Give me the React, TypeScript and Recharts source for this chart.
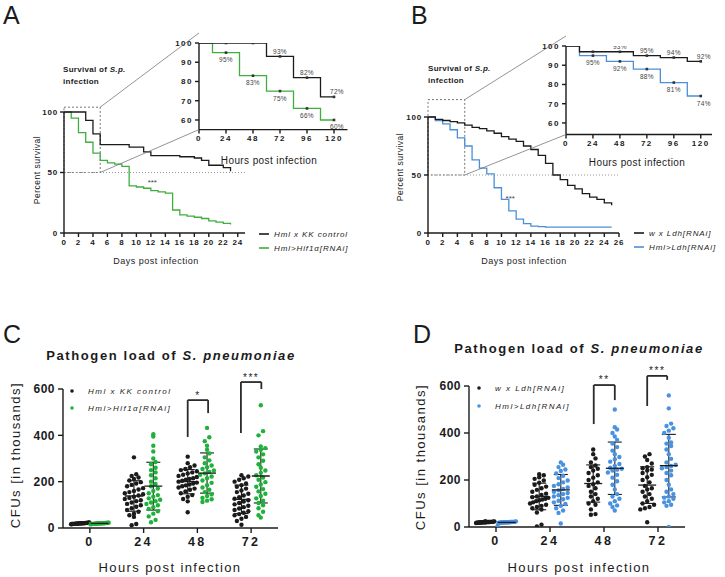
import {
  LineChart,
  Line,
  XAxis,
  YAxis,
  ReferenceLine,
  ReferenceArea,
  ReferenceDot,
  ScatterChart,
  Scatter,
  ErrorBar,
} from 'recharts'

const FONT = '"Liberation Sans", Arial, Helvetica, sans-serif'
const INK = '#1b1b1b'
const GREEN_LINE = '#3fae3f'
const BLUE_LINE = '#4b8fd8'
const GREEN_DOT = '#22b03c'
const BLUE_DOT = '#4a92e0'

// ---- survival, days post infection ----
const A_DAYS = [0, 1, 2, 3, 4, 5, 6, 7, 8, 9, 10, 11, 12, 13, 14, 15, 16, 17, 18, 19, 20, 21, 22, 23]
const A_CONTROL = [100, 100, 100, 93, 82, 73, 73, 73, 73, 71, 71, 67, 64, 64, 64, 64, 63, 63, 62, 60, 56, 56, 54, 51]
const A_HIF = [100, 95, 83, 75, 66, 60, 58, 57, 55, 39, 38, 37, 35, 34, 33, 19, 15, 14, 13, 12, 10, 9, 8, 7]

const B_DAYS = [0, 1, 2, 3, 4, 5, 6, 7, 8, 9, 10, 11, 12, 13, 14, 15, 16, 17, 18, 19, 20, 21, 22, 23, 24, 25]
const B_CONTROL = [100, 98, 97, 96, 95, 93, 91, 90, 88, 86, 83, 81, 79, 75, 72, 67, 60, 50, 46, 41, 38, 34, 31, 29, 26, 24]
const B_LDH = [100, 97, 94, 89, 82, 75, 63, 56, 51, 39, 29, 19, 12, 8, 6, 5.5, 5, 5, 5, 5, 5, 5, 5, 5, 5, 5]

const A_DAY_TICKS = [0, 2, 4, 6, 8, 10, 12, 14, 16, 18, 20, 22, 24]
const B_DAY_TICKS = [0, 2, 4, 6, 8, 10, 12, 14, 16, 18, 20, 22, 24, 26]
const MAIN_Y_TICKS = [0, 50, 100]

// ---- survival insets, hours post infection ----
const INSET_HOURS = [0, 12, 24, 36, 48, 60, 72, 84, 96, 108, 120]
const INSET_HOUR_TICKS = [0, 24, 48, 72, 96, 120]
const INSET_Y_TICKS = [60, 70, 80, 90, 100]

const A_INSET_CONTROL = [100, 100, 100, 100, 100, 93, 93, 82, 82, 72, 72]
const A_INSET_HIF = [100, 95, 95, 83, 83, 75, 75, 66, 66, 60, 60]
const A_INSET_CONTROL_LABELS = ['', '', '', '', '', '', '93%', '', '82%', '', '72%']
const A_INSET_HIF_LABELS = ['', '', '95%', '', '83%', '', '75%', '', '66%', '', '60%']

const B_INSET_CONTROL = [100, 97, 97, 97, 97, 95, 95, 94, 94, 92, 92]
const B_INSET_LDH = [100, 95, 95, 92, 92, 88, 88, 81, 81, 74, 74]
const B_INSET_CONTROL_LABELS = ['', '', '', '', '93%', '', '95%', '', '94%', '', '92%']
const B_INSET_LDH_LABELS = ['', '', '95%', '', '92%', '', '88%', '', '81%', '', '74%']

// ---- pathogen load, CFUs in thousands ----
const HOUR_GROUPS = ['0', '24', '48', '72']
const CFU_TICKS = [0, 200, 400, 600]

const C_CONTROL = [
  [24, 23, 23, 22, 22, 22, 21, 21, 21, 21, 20, 20, 20, 20, 20, 19, 19, 19, 19, 18, 18, 18, 17, 17, 16, 22, 21, 20, 19, 18],
  [305, 232, 225, 218, 212, 205, 198, 192, 186, 180, 172, 166, 160, 155, 150, 146, 140, 135, 130, 125, 120, 116, 110, 104, 98, 92, 85, 78, 70, 62, 55, 48, 17, 12],
  [308, 280, 270, 262, 255, 250, 245, 240, 235, 230, 225, 220, 215, 212, 208, 204, 200, 196, 192, 188, 184, 180, 175, 170, 165, 158, 150, 142, 135, 125, 115, 68],
  [228, 222, 215, 208, 200, 192, 185, 178, 170, 162, 155, 148, 140, 133, 126, 120, 114, 108, 102, 96, 90, 84, 78, 72, 66, 60, 55, 48, 40, 30, 14],
]
const C_HIF = [
  [23, 23, 22, 22, 22, 21, 21, 21, 20, 20, 20, 20, 20, 19, 19, 19, 19, 18, 18, 18, 17, 17, 16, 21, 20, 19, 22, 20, 18, 21],
  [405, 395, 355, 330, 300, 285, 275, 260, 250, 240, 228, 215, 200, 190, 180, 170, 160, 150, 142, 135, 128, 122, 116, 110, 104, 98, 90, 82, 72, 62, 50, 35, 25],
  [432, 392, 375, 355, 338, 322, 305, 292, 280, 270, 262, 255, 248, 242, 236, 230, 222, 215, 205, 195, 185, 175, 165, 155, 145, 138, 130, 124, 118, 112],
  [530, 418, 400, 352, 345, 338, 330, 318, 305, 290, 275, 260, 248, 238, 228, 218, 208, 198, 188, 178, 168, 158, 148, 138, 128, 118, 108, 98, 85, 70, 55, 45],
]

const D_CONTROL = [
  [25, 24, 23, 22, 22, 21, 21, 21, 20, 20, 20, 20, 19, 19, 19, 18, 18, 17, 22, 21, 20, 19, 23, 20, 18, 21],
  [225, 220, 212, 205, 198, 188, 180, 172, 165, 158, 150, 142, 136, 130, 127, 124, 120, 117, 114, 110, 105, 100, 95, 90, 85, 80, 74, 62, 10, 2],
  [330, 310, 292, 275, 262, 255, 248, 240, 230, 220, 210, 200, 190, 182, 175, 165, 150, 140, 130, 120, 110, 100, 95, 75, 55, 52],
  [310, 300, 285, 270, 255, 250, 245, 240, 230, 222, 212, 200, 190, 175, 165, 160, 150, 140, 130, 120, 110, 100, 95, 85, 80, 75, 20],
]
const D_LDH = [
  [24, 23, 22, 22, 21, 21, 20, 20, 20, 20, 19, 19, 19, 18, 18, 17, 22, 21, 20, 19, 21, 20, 5, 20, 18],
  [275, 265, 255, 245, 238, 228, 218, 208, 198, 190, 182, 175, 168, 162, 156, 150, 145, 140, 135, 130, 124, 118, 112, 105, 98, 90, 80, 70, 60, 15],
  [500, 425, 415, 400, 385, 370, 355, 340, 325, 310, 298, 288, 278, 268, 260, 252, 248, 244, 240, 232, 222, 210, 195, 180, 160, 140, 130, 120, 110, 100, 92, 85, 70],
  [560, 505, 440, 430, 420, 410, 400, 380, 360, 355, 345, 330, 310, 290, 275, 265, 260, 255, 250, 240, 230, 220, 200, 180, 160, 150, 140, 130, 125, 120, 110, 105, 95, 90, 0],
]

// ---- layout ----
interface Geo {
  box: { left: number; top: number; width: number; height: number }
  plot: { left: number; right: number; top: number; bottom: number }
  yAxisW: number
  xAxisH: number
}

function marginOf(g: Geo) {
  return {
    left: g.plot.left - g.box.left - g.yAxisW,
    right: g.box.left + g.box.width - g.plot.right,
    top: g.plot.top - g.box.top,
    bottom: g.box.top + g.box.height - g.plot.bottom - g.xAxisH,
  }
}

const px = (g: Geo, v: number, d0: number, d1: number) =>
  g.plot.left + ((v - d0) / (d1 - d0)) * (g.plot.right - g.plot.left)
const py = (g: Geo, v: number, d0: number, d1: number) =>
  g.plot.bottom - ((v - d0) / (d1 - d0)) * (g.plot.bottom - g.plot.top)

const A_MAIN: Geo = { box: { left: 0, top: 95, width: 262, height: 180 }, plot: { left: 64, right: 245, top: 112, bottom: 233 }, yAxisW: 34, xAxisH: 30 }
const A_INSET: Geo = { box: { left: 160, top: 30, width: 200, height: 135 }, plot: { left: 199, right: 347.5, top: 43, bottom: 129.6 }, yAxisW: 30, xAxisH: 20 }
const B_MAIN: Geo = { box: { left: 362, top: 95, width: 268, height: 180 }, plot: { left: 428, right: 619, top: 117, bottom: 233 }, yAxisW: 34, xAxisH: 30 }
const B_INSET: Geo = { box: { left: 525, top: 30, width: 200, height: 140 }, plot: { left: 566, right: 712, top: 46, bottom: 134.5 }, yAxisW: 30, xAxisH: 20 }
const C_GEO: Geo = { box: { left: 0, top: 370, width: 290, height: 200 }, plot: { left: 63, right: 278, top: 389, bottom: 528 }, yAxisW: 40, xAxisH: 30 }
const D_GEO: Geo = { box: { left: 400, top: 365, width: 300, height: 205 }, plot: { left: 469, right: 685, top: 386, bottom: 527 }, yAxisW: 40, xAxisH: 30 }

const axisStroke = { stroke: INK, strokeWidth: 1.4 }

// ---- survival main ----
interface MainProps {
  geo: Geo
  days: number[]
  ctrl: number[]
  ko: number[]
  koColor: string
  xMax: number
  ticks: number[]
  zoomTop: number
  star: { x: number; y: number }
}

function SurvivalMain({ geo, days, ctrl, ko, koColor, xMax, ticks, zoomTop, star }: MainProps) {
  const rows = days.map((d, i) => ({ day: d, ctrl: ctrl[i], ko: ko[i] }))
  const tick = { fontSize: 8, fontWeight: 700, fill: INK, fontFamily: FONT, letterSpacing: 0.8 }
  return (
    <div style={{ position: 'absolute', left: geo.box.left, top: geo.box.top }}>
      <LineChart width={geo.box.width} height={geo.box.height} data={rows} margin={marginOf(geo)}>
        <XAxis dataKey="day" type="number" domain={[0, xMax]} ticks={ticks} interval={0} height={geo.xAxisH}
          axisLine={axisStroke} tickLine={axisStroke} tickSize={4} tick={tick} />
        <YAxis type="number" domain={[0, 100]} ticks={MAIN_Y_TICKS} width={geo.yAxisW} interval={0}
          axisLine={axisStroke} tickLine={axisStroke} tickSize={4} tick={tick} />
        <ReferenceLine y={50} stroke="#999" strokeDasharray="1 2" strokeWidth={1} />
        <ReferenceArea x1={0} x2={5} y1={50} y2={zoomTop} ifOverflow="visible" fill="none" fillOpacity={0}
          stroke="#555" strokeDasharray="2 2" strokeWidth={0.8} />
        <Line type="stepAfter" dataKey="ko" stroke={koColor} strokeWidth={1.3} dot={false} isAnimationActive={false} />
        <Line type="stepAfter" dataKey="ctrl" stroke={INK} strokeWidth={1.3} dot={false} isAnimationActive={false} />
        <ReferenceDot x={star.x} y={star.y} r={0} fill="none" stroke="none"
          label={{ value: '***', position: 'center', fontSize: 8, fill: '#444', fontFamily: FONT }} />
      </LineChart>
    </div>
  )
}

// ---- survival inset ----
function markerDot(labKey: string, below: boolean) {
  return (props: any) => {
    const { cx, cy, payload, index } = props
    if (payload.h === 0 || payload.h % 24 !== 0) return <g key={`m${index}`} />
    const lab = payload[labKey]
    const dx = payload.h === 120 ? 3 : 0
    return (
      <g key={`m${index}`}>
        <rect x={cx - 1.3} y={cy - 1.3} width={2.6} height={2.6} fill="#333" />
        {lab ? (
          <text x={cx + dx} y={below ? cy + 7 : cy - 5} textAnchor="middle" dominantBaseline="central"
            fontSize={6.5} fill="#444" fontFamily={FONT} letterSpacing={0.3}>{lab}</text>
        ) : null}
      </g>
    )
  }
}

interface InsetProps {
  geo: Geo
  ctrl: number[]
  ko: number[]
  koColor: string
  ctrlLabels: string[]
  koLabels: string[]
  xMax: number
  yMin: number
}

function SurvivalInset({ geo, ctrl, ko, koColor, ctrlLabels, koLabels, xMax, yMin }: InsetProps) {
  const rows = INSET_HOURS.map((h, i) => ({ h, ctrl: ctrl[i], ko: ko[i], ctrlLab: ctrlLabels[i], koLab: koLabels[i] }))
  const tick = { fontSize: 8, fontWeight: 700, fill: INK, fontFamily: FONT, letterSpacing: 1.5 }
  return (
    <div style={{ position: 'absolute', left: geo.box.left, top: geo.box.top }}>
      <LineChart width={geo.box.width} height={geo.box.height} data={rows} margin={marginOf(geo)}>
        <XAxis dataKey="h" type="number" domain={[0, xMax]} ticks={INSET_HOUR_TICKS} interval={0} height={geo.xAxisH}
          axisLine={axisStroke} tickLine={axisStroke} tickSize={4} tick={tick} />
        <YAxis type="number" domain={[yMin, 100]} ticks={INSET_Y_TICKS} width={geo.yAxisW} interval={0} allowDataOverflow
          axisLine={axisStroke} tickLine={axisStroke} tickSize={4} tick={tick} />
        <Line type="stepAfter" dataKey="ko" stroke={koColor} strokeWidth={1.3} dot={markerDot('koLab', true)} isAnimationActive={false} />
        <Line type="stepAfter" dataKey="ctrl" stroke={INK} strokeWidth={1.3} dot={markerDot('ctrlLab', false)} isAnimationActive={false} />
      </LineChart>
    </div>
  )
}

// ---- pathogen load ----
// GraphPad-like column scatter: values sharing a band are spread sideways
function swarm(values: number[], center: number, band: number, step: number, half: number) {
  const sorted = [...values].sort((a, b) => a - b)
  const bins = new Map<number, number[]>()
  sorted.forEach((v) => {
    const k = Math.floor(v / band)
    bins.set(k, [...(bins.get(k) ?? []), v])
  })
  const pts: { x: number; y: number }[] = []
  bins.forEach((vs) => {
    const n = vs.length
    const s = n > 1 ? Math.min(step, (2 * half) / (n - 1)) : 0
    vs.forEach((v, k) => pts.push({ x: center + (k - (n - 1) / 2) * s, y: v }))
  })
  return pts
}

const mean = (a: number[]) => a.reduce((s, v) => s + v, 0) / a.length
const sdev = (a: number[]) => {
  const m = mean(a)
  return Math.sqrt(a.reduce((s, v) => s + (v - m) ** 2, 0) / (a.length - 1))
}

const dotShape = (color: string) => (props: any) => (
  <circle cx={props.cx} cy={props.cy} r={2.2} fill={color} />
)
const meanShape = (props: any) => (
  <line x1={props.cx - 9} x2={props.cx + 9} y1={props.cy} y2={props.cy} stroke={INK} strokeWidth={1.3} />
)

interface LoadProps {
  geo: Geo
  ctrl: number[][]
  ko: number[][]
  koColor: string
  shift: number
  brackets: { x1: number; x2: number; yl: number; yr: number; top: number; star: string }[]
}

function LoadPanel({ geo, ctrl, ko, koColor, shift, brackets }: LoadProps) {
  const ctrlPts = ctrl.flatMap((vals, g) => swarm(vals, g - shift, 25, 0.085, 0.17))
  const koPts = ko.flatMap((vals, g) => swarm(vals, g + shift, 25, 0.085, 0.17))
  const means = [
    ...ctrl.map((vals, g) => ({ x: g - shift, y: mean(vals), sd: sdev(vals) })),
    ...ko.map((vals, g) => ({ x: g + shift, y: mean(vals), sd: sdev(vals) })),
  ]
  const yTick = { fontSize: 12, fontWeight: 700, fill: INK, fontFamily: FONT, letterSpacing: 0.5 }
  const xTick = { fontSize: 12.5, fontWeight: 700, fill: INK, fontFamily: FONT, letterSpacing: 2.5 }
  const bracketStroke = { stroke: '#2a2a2a', strokeWidth: 1.8 }
  return (
    <div style={{ position: 'absolute', left: geo.box.left, top: geo.box.top }}>
      <ScatterChart width={geo.box.width} height={geo.box.height} margin={marginOf(geo)}>
        <XAxis type="number" dataKey="x" domain={[-0.5, 3.5]} ticks={[0, 1, 2, 3]} interval={0}
          tickFormatter={(v: number) => HOUR_GROUPS[v] ?? ''} height={geo.xAxisH}
          axisLine={axisStroke} tickLine={axisStroke} tickSize={5} tickMargin={4} tick={xTick} />
        <YAxis type="number" dataKey="y" domain={[0, 600]} ticks={CFU_TICKS} interval={0} width={geo.yAxisW}
          allowDataOverflow axisLine={axisStroke} tickLine={axisStroke} tickSize={5} tickMargin={3} tick={yTick} />
        <Scatter data={ctrlPts} shape={dotShape(INK)} isAnimationActive={false} />
        <Scatter data={koPts} shape={dotShape(koColor)} isAnimationActive={false} />
        <Scatter data={means} shape={meanShape} isAnimationActive={false}>
          <ErrorBar dataKey="sd" direction="y" width={7} stroke={INK} strokeWidth={1.1} isAnimationActive={false} />
        </Scatter>
        {brackets.map((b, i) => [
          <ReferenceLine key={`l${i}`} ifOverflow="visible" {...bracketStroke}
            segment={[{ x: b.x1, y: b.yl }, { x: b.x1, y: b.top }]} />,
          <ReferenceLine key={`t${i}`} ifOverflow="visible" {...bracketStroke}
            segment={[{ x: b.x1, y: b.top }, { x: b.x2, y: b.top }]} />,
          <ReferenceLine key={`r${i}`} ifOverflow="visible" {...bracketStroke}
            segment={[{ x: b.x2, y: b.top }, { x: b.x2, y: b.yr }]} />,
          <ReferenceDot key={`s${i}`} x={(b.x1 + b.x2) / 2} y={b.top + 22} r={0} ifOverflow="visible" fill="none" stroke="none"
            label={{ value: b.star, position: 'center', fontSize: 10, fill: INK, fontFamily: FONT, letterSpacing: 1.5 }} />,
        ])}
      </ScatterChart>
    </div>
  )
}

// ---- overlay text ----
interface TxtProps {
  x: number
  y: number
  size?: number
  weight?: number
  italic?: boolean
  anchor?: 'start' | 'middle' | 'end'
  ls?: number
  rotate?: boolean
  children: any
}

function Txt({ x, y, size = 9, weight = 400, italic = false, anchor = 'start', ls = 0, rotate = false, children }: TxtProps) {
  return (
    <text x={x} y={y} fontSize={size} fontWeight={weight} fontStyle={italic ? 'italic' : 'normal'} textAnchor={anchor}
      dominantBaseline="central" letterSpacing={ls} fill={INK} fontFamily={FONT}
      transform={rotate ? `rotate(-90 ${x} ${y})` : undefined}>
      {children}
    </text>
  )
}

function Connectors({ main, inset, xMax, zoomTop }: { main: Geo; inset: Geo; xMax: number; zoomTop: number }) {
  const rx = px(main, 5, 0, xMax)
  const top = py(main, zoomTop, 0, 100)
  const bottom = py(main, 50, 0, 100)
  return (
    <g stroke="#666" strokeWidth={0.7}>
      <line x1={rx} y1={top} x2={inset.plot.left} y2={inset.plot.top - 10} />
      <line x1={rx} y1={bottom} x2={inset.plot.left} y2={inset.plot.bottom} />
    </g>
  )
}

function LegendLine({ x, y, color, label }: { x: number; y: number; color: string; label: string }) {
  return (
    <g>
      <line x1={x} x2={x + 10} y1={y} y2={y} stroke={color} strokeWidth={1.6} />
      <Txt x={x + 15} y={y} size={8} italic ls={0.9}>{label}</Txt>
    </g>
  )
}

function LegendDot({ x, y, color, label }: { x: number; y: number; color: string; label: string }) {
  return (
    <g>
      <circle cx={x} cy={y} r={1.8} fill={color} />
      <Txt x={x + 16} y={y} size={8} italic ls={1.5}>{label}</Txt>
    </g>
  )
}

export default function App() {
  return (
    <div style={{ position: 'absolute', left: 0, top: 0, width: 725, height: 577, background: '#fff', overflow: 'hidden' }}>
      <SurvivalMain geo={A_MAIN} days={A_DAYS} ctrl={A_CONTROL} ko={A_HIF} koColor={GREEN_LINE} xMax={25}
        ticks={A_DAY_TICKS} zoomTop={104} star={{ x: 12.2, y: 42 }} />
      <SurvivalInset geo={A_INSET} ctrl={A_INSET_CONTROL} ko={A_INSET_HIF} koColor={GREEN_LINE}
        ctrlLabels={A_INSET_CONTROL_LABELS} koLabels={A_INSET_HIF_LABELS} xMax={132} yMin={55} />
      <SurvivalMain geo={B_MAIN} days={B_DAYS} ctrl={B_CONTROL} ko={B_LDH} koColor={BLUE_LINE} xMax={26}
        ticks={B_DAY_TICKS} zoomTop={115} star={{ x: 11.2, y: 30 }} />
      <SurvivalInset geo={B_INSET} ctrl={B_INSET_CONTROL} ko={B_INSET_LDH} koColor={BLUE_LINE}
        ctrlLabels={B_INSET_CONTROL_LABELS} koLabels={B_INSET_LDH_LABELS} xMax={130} yMin={54} />
      <LoadPanel geo={C_GEO} ctrl={C_CONTROL} ko={C_HIF} koColor={GREEN_DOT} shift={0.18}
        brackets={[
          { x1: 1.82, x2: 2.2, yl: 393, yr: 496, top: 552, star: '*' },
          { x1: 2.81, x2: 3.19, yl: 410, yr: 600, top: 630, star: '***' },
        ]} />
      <LoadPanel geo={D_GEO} ctrl={D_CONTROL} ko={D_LDH} koColor={BLUE_DOT} shift={0.2}
        brackets={[
          { x1: 1.81, x2: 2.2, yl: 438, yr: 540, top: 604, star: '**' },
          { x1: 2.8, x2: 3.17, yl: 515, yr: 626, top: 643, star: '***' },
        ]} />

      <svg width={725} height={577} style={{ position: 'absolute', left: 0, top: 0, pointerEvents: 'none' }}>
        <Connectors main={A_MAIN} inset={A_INSET} xMax={25} zoomTop={104} />
        <Connectors main={B_MAIN} inset={B_INSET} xMax={26} zoomTop={115} />

        <Txt x={3} y={15} size={25}>A</Txt>
        <Txt x={411} y={15} size={25}>B</Txt>
        <Txt x={3} y={334} size={25}>C</Txt>
        <Txt x={413} y={334} size={25}>D</Txt>

        <Txt x={63} y={69} size={8} weight={700} ls={0.3}>Survival of <tspan fontStyle="italic">S.p.</tspan></Txt>
        <Txt x={63} y={81} size={8} weight={700} ls={0.3}>infection</Txt>
        <Txt x={428} y={68} size={8} weight={700} ls={0.3}>Survival of <tspan fontStyle="italic">S.p.</tspan></Txt>
        <Txt x={428} y={80} size={8} weight={700} ls={0.3}>infection</Txt>

        <Txt x={37} y={170} size={8.5} ls={0.5} anchor="middle" rotate>Percent survival</Txt>
        <Txt x={156} y={261} size={9} ls={0.5} anchor="middle">Days post infection</Txt>
        <Txt x={269} y={160} size={10} ls={0.4} anchor="middle">Hours post infection</Txt>
        <Txt x={400} y={167} size={8.5} ls={0.5} anchor="middle" rotate>Percent survival</Txt>
        <Txt x={524} y={261} size={9} ls={0.5} anchor="middle">Days post infection</Txt>
        <Txt x={637} y={162} size={10} ls={0.4} anchor="middle">Hours post infection</Txt>

        <LegendLine x={259} y={234} color={INK} label="Hml x KK control" />
        <LegendLine x={259} y={248} color={GREEN_LINE} label="Hml>Hif1α[RNAi]" />
        <LegendLine x={634} y={233} color={INK} label="w x Ldh[RNAi]" />
        <LegendLine x={634} y={247} color={BLUE_LINE} label="Hml>Ldh[RNAi]" />

        <Txt x={171} y={355} size={13} weight={700} ls={1.6} anchor="middle">
          Pathogen load of <tspan fontStyle="italic">S. pneumoniae</tspan>
        </Txt>
        <Txt x={15} y={455} size={13} ls={1.5} anchor="middle" rotate>CFUs [in thousands]</Txt>
        <Txt x={170} y={567} size={13} ls={1.4} anchor="middle">Hours post infection</Txt>
        <LegendDot x={72} y={391} color={INK} label="Hml x KK control" />
        <LegendDot x={72} y={408} color={GREEN_DOT} label="Hml>Hif1α[RNAi]" />

        <Txt x={579} y={348} size={13} weight={700} ls={1.6} anchor="middle">
          Pathogen load of <tspan fontStyle="italic">S. pneumoniae</tspan>
        </Txt>
        <Txt x={420} y={457} size={13} ls={1.5} anchor="middle" rotate>CFUs [in thousands]</Txt>
        <Txt x={579} y={567} size={13} ls={1.4} anchor="middle">Hours post infection</Txt>
        <LegendDot x={479} y={388} color={INK} label="w x Ldh[RNAi]" />
        <LegendDot x={479} y={406} color={BLUE_DOT} label="Hml>Ldh[RNAi]" />
      </svg>
    </div>
  )
}
